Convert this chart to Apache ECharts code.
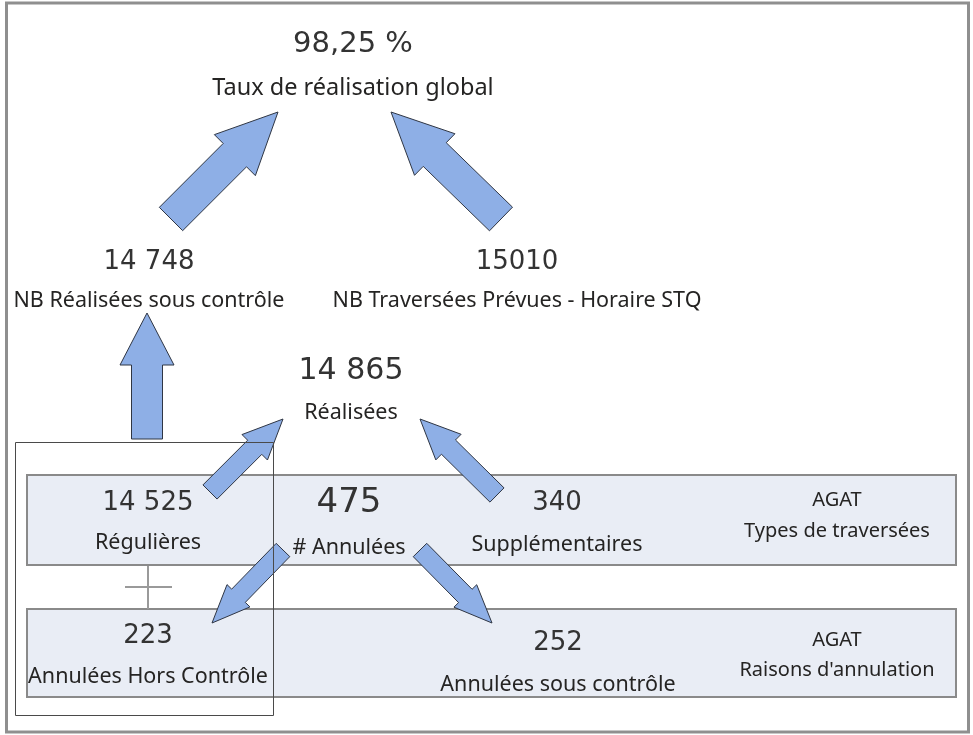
<!DOCTYPE html>
<html>
<head>
<meta charset="utf-8">
<script src="https://cdn.jsdelivr.net/npm/echarts@6/dist/echarts.min.js"></script>
<style>
  html, body { margin: 0; padding: 0; background: #fff; }
  #main { width: 973px; height: 735px; }
</style>
</head>
<body>
<div id="main"></div>
<script>
// ========== 数据 ==========
const kpiValues = ['98,25 %', '14 748', '15010', '14 865', '14 525', '475', '340', '223', '252'];
const kpiLabels = [
    'Taux de réalisation global',
    'NB Réalisées sous contrôle',
    'NB Traversées Prévues - Horaire STQ',
    'Réalisées',
    'Régulières',
    '# Annulées',
    'Supplémentaires',
    'Annulées Hors Contrôle',
    'Annulées sous contrôle'
];
const sectionTitles = ['AGAT', 'AGAT'];
const sectionSubtitles = ['Types de traversées', "Raisons d'annulation"];

// ========== 布局 ==========
// [centre x, y du chiffre, y du libellé, taille du chiffre, taille du libellé]
const kpiPos = [
    [353, 44, 88, 29, 23.5],
    [149, 262, 301, 26, 21.5],
    [517, 262, 301, 26, 21.5],
    [351, 371, 413, 30, 21.5],
    [148, 503, 543, 26, 21.5],
    [349, 503, 548, 34, 21.5],
    [557, 503, 545, 26, 21.5],
    [148, 636, 677, 26, 21.5],
    [558, 643, 685, 26, 21.5]
];
const sectionPos = [[837, 500, 531], [837, 640, 670]];

// [queue, pointe, largeur tige, largeur tête, longueur tête]
const arrows = [
    [[147, 439], [147, 313], 31, 54, 52],
    [[171, 219], [278, 112], 33, 58, 61],
    [[501, 219], [391, 112], 33, 58, 61],
    [[210, 492], [283, 419], 20, 36, 40],
    [[497, 495], [420, 419], 20, 36, 40],
    [[283, 550], [212, 623], 19, 32, 38],
    [[420, 550], [492, 623], 19, 32, 38]
];

const NUM_FONT = '"DejaVu Sans", sans-serif';
const LBL_FONT = '"Noto Sans", sans-serif';

function arrowPoints(tail, tip, shaftW, headW, headL) {
    const dx = tip[0] - tail[0], dy = tip[1] - tail[1];
    const len = Math.hypot(dx, dy);
    const ux = dx / len, uy = dy / len;
    const px = -uy, py = ux;
    const bx = tip[0] - ux * headL, by = tip[1] - uy * headL;
    const s = shaftW / 2, h = headW / 2;
    return [
        [tail[0] + px * s, tail[1] + py * s],
        [bx + px * s, by + py * s],
        [bx + px * h, by + py * h],
        tip,
        [bx - px * h, by - py * h],
        [bx - px * s, by - py * s],
        [tail[0] - px * s, tail[1] - py * s]
    ];
}

function textEl(str, x, y, size, family, color) {
    return {
        type: 'text', z: 10, x: x, y: y,
        style: {
            text: str, fill: color, fontSize: size, fontFamily: family,
            align: 'center', verticalAlign: 'middle',
            textAlign: 'center', textVerticalAlign: 'middle'
        }
    };
}

const elements = [];

// cadre extérieur
elements.push({
    type: 'rect', z: 0,
    shape: { x: 6.5, y: 3, width: 962, height: 729 },
    style: { fill: '#fff', stroke: '#8f8f8f', lineWidth: 3 }
});

// bandeaux
[[475, 90], [609, 88]].forEach(b => {
    elements.push({
        type: 'rect', z: 1,
        shape: { x: 27, y: b[0], width: 929, height: b[1] },
        style: { fill: '#e9edf5', stroke: '#8a8a8a', lineWidth: 2 }
    });
});

// liaison +
elements.push({ type: 'line', z: 2, shape: { x1: 148, y1: 566, x2: 148, y2: 609 },
    style: { stroke: '#9a9a9a', lineWidth: 2 } });
elements.push({ type: 'line', z: 2, shape: { x1: 125, y1: 587, x2: 172, y2: 587 },
    style: { stroke: '#9a9a9a', lineWidth: 2 } });

// flèches
arrows.forEach(a => {
    elements.push({
        type: 'polygon', z: 3,
        shape: { points: arrowPoints(a[0], a[1], a[2], a[3], a[4]) },
        style: { fill: '#8eafe6', stroke: '#2f3644', lineWidth: 1, lineJoin: 'miter' }
    });
});

// rectangle fin
elements.push({
    type: 'rect', z: 4,
    shape: { x: 15.5, y: 442.5, width: 258, height: 273 },
    style: { fill: 'none', stroke: '#4a4a4a', lineWidth: 1 }
});

// textes
kpiValues.forEach((v, i) => {
    const p = kpiPos[i];
    elements.push(textEl(v, p[0], p[1], p[3], NUM_FONT, '#333333'));
    elements.push(textEl(kpiLabels[i], p[0], p[2], p[4], LBL_FONT, '#252423'));
});
sectionTitles.forEach((t, i) => {
    const p = sectionPos[i];
    elements.push(textEl(t, p[0], p[1], 20, LBL_FONT, '#252423'));
    elements.push(textEl(sectionSubtitles[i], p[0], p[2], 20, LBL_FONT, '#252423'));
});

const chart = echarts.init(document.getElementById('main'));
chart.setOption({
    animation: false,
    graphic: { elements: elements }
});
</script>
</body>
</html>
